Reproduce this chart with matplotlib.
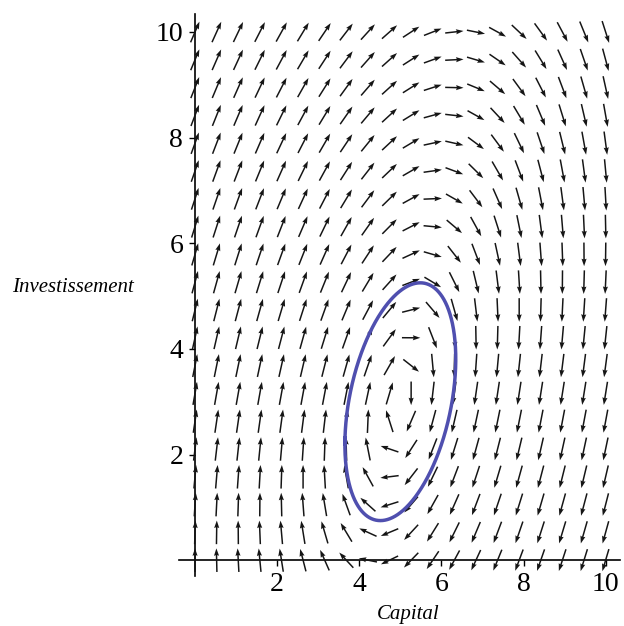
import numpy as np
import matplotlib
matplotlib.use("Agg")
import matplotlib.pyplot as plt

# ---- data: grid of the direction field -------------------------------
K_values = np.linspace(0, 10, 20)      # Capital grid (20 points)
I_values = np.linspace(0, 10, 20)      # Investissement grid (20 points)

# model read from the field: dK/dt = I - delta*K ; dI/dt = aK*K + aI*I + c0
delta = 0.6
aK = -2.78
aI = 0.6
c0 = 12.1

# initial point of the plotted trajectory (leftmost point of the orbit)
K_start = 3.65
I_start = 2.19

x_ticks = [2, 4, 6, 8, 10]
y_ticks = [2, 4, 6, 8, 10]


def field(K, I):
    return I - delta * K, aK * K + aI * I + c0


W, H = 624, 626
fig = plt.figure(figsize=(W / 100, H / 100), dpi=100)
left_px, right_px, top_px, bottom_px = 178.6, 620.0, 13.5, 576.0
ax = fig.add_axes([left_px / W, 1 - bottom_px / H,
                   (right_px - left_px) / W, (bottom_px - top_px) / H])
ax.set_xlim(-0.4, 10.35)
ax.set_ylim(-0.3, 10.35)

# direction field (arrows normalised to fixed data length, centred on grid)
KK, II = np.meshgrid(K_values, I_values)
U, V = field(KK, II)
N = np.hypot(U, V)
step = K_values[1] - K_values[0]
L = 0.85 * step
U = U / N * L
V = V / N * L
ax.quiver(KK, II, U, V, angles="xy", scale_units="xy", scale=1,
          pivot="middle", color="#151515", width=0.0034,
          headwidth=3.4, headlength=5.0, headaxislength=4.5, zorder=3)

# trajectory (closed orbit) integrated with RK4
omega = np.sqrt((-delta) * aI - 1.0 * aK)
T = 2 * np.pi / omega
n = 2000
dt = T / n * 1.01
traj = [(K_start, I_start)]
k, i = K_start, I_start
for _ in range(n):
    k1 = field(k, i)
    k2 = field(k + dt / 2 * k1[0], i + dt / 2 * k1[1])
    k3 = field(k + dt / 2 * k2[0], i + dt / 2 * k2[1])
    k4 = field(k + dt * k3[0], i + dt * k3[1])
    k += dt / 6 * (k1[0] + 2 * k2[0] + 2 * k3[0] + k4[0])
    i += dt / 6 * (k1[1] + 2 * k2[1] + 2 * k3[1] + k4[1])
    traj.append((k, i))
traj = np.array(traj)
ax.plot(traj[:, 0], traj[:, 1], color="#4F4FAF", lw=2.5, zorder=4,
        solid_capstyle="round")

# axes through origin
for s in ["top", "right"]:
    ax.spines[s].set_visible(False)
ax.spines["left"].set_position(("data", 0))
ax.spines["bottom"].set_position(("data", 0))
ax.spines["left"].set_linewidth(1.2)
ax.spines["bottom"].set_linewidth(1.2)
ax.set_xticks(x_ticks)
ax.set_yticks(y_ticks)
ax.set_xticklabels([str(t) for t in x_ticks])
ax.set_yticklabels([str(t) for t in y_ticks])
ax.tick_params(direction="out", length=4.5, width=1.0, labelsize=20, pad=4)
for lab in ax.get_xticklabels() + ax.get_yticklabels():
    lab.set_fontfamily("Liberation Serif")

fig.text(408 / W, 1 - 614 / H, "Capital", ha="center", va="center",
         fontsize=15, style="italic", family="Liberation Serif")
fig.text(12 / W, 1 - 287 / H, "Investissement", ha="left", va="center",
         fontsize=15, style="italic", family="Liberation Serif")

fig.savefig("out.png", dpi=100)
